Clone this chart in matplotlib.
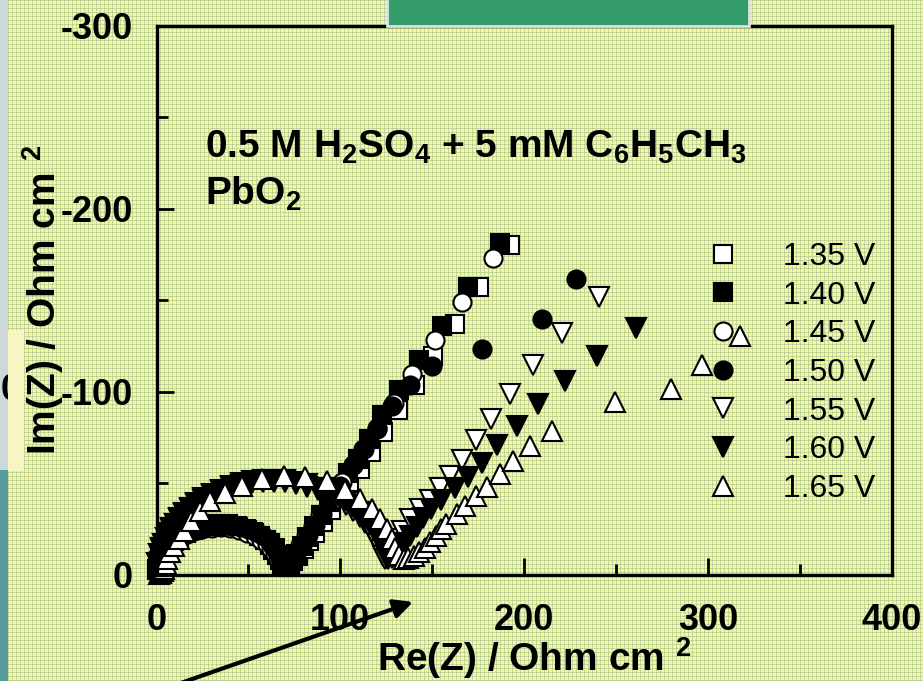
import numpy as np
import matplotlib
matplotlib.use('Agg')
import matplotlib.pyplot as plt
from matplotlib.patches import Rectangle, FancyArrowPatch

plt.rcParams['font.family'] = ['Liberation Sans', 'DejaVu Sans']
plt.rcParams['font.weight'] = 'bold'
plt.rcParams['axes.labelweight'] = 'bold'
plt.rcParams['mathtext.fontset'] = 'custom'
plt.rcParams['mathtext.rm'] = 'Liberation Sans:bold'
plt.rcParams['mathtext.it'] = 'Liberation Sans:bold'
plt.rcParams['mathtext.bf'] = 'Liberation Sans:bold'
plt.rcParams['mathtext.default'] = 'rm'
plt.rcParams['axes.unicode_minus'] = False

# Nyquist data, Re(Z) and -Im(Z) in Ohm cm2
re_135 = [0.3, 0.8, 1.5, 2.5, 3.5, 5, 7, 9.5, 12.5, 16, 20, 24.5, 29.5, 34.5, 39.5, 44.5, 49, 53, 56.5, 59.5,
          62, 64.5, 66.5, 68, 69.5, 71, 72.5, 74.5, 77, 80, 83, 86.5, 90.5, 95, 100, 105, 110.5, 116.5, 123.5,
          131.5, 140.8, 150.7, 162.5, 175.7, 192.4]
mim_135 = [3.5, 5.7, 7.8, 10, 11.8, 13.9, 16.2, 18.5, 20.7, 22.7, 24.4, 25.8, 26.7, 27, 26.8, 26, 24.7, 23.1, 21.3,
           19.3, 17.2, 14.5, 11, 8, 5.5, 4.5, 5.5, 7.5, 10.5, 14, 18.5, 23, 29, 35.5, 43, 50, 58, 67, 78, 90,
           104, 119.4, 137, 157.2, 180.2]

re_140 = [0.2, 0.6, 1.2, 2, 3, 4.5, 6.5, 9, 12, 15.5, 19.5, 24, 29, 34, 39, 44, 48.5, 52.5, 56, 59, 61.5, 63.5,
          65.5, 67, 68.5, 70, 71.5, 73.5, 76, 79, 82, 85.5, 89.5, 94, 99, 104, 109.5, 115.5, 122.7, 131.7, 142.6,
          155.3, 169.7, 187]
mim_140 = [3, 5.2, 7.4, 9.5, 11.5, 13.9, 16.5, 19, 21.3, 23.5, 25.3, 26.8, 27.7, 28, 27.7, 26.8, 25.3, 23.5, 21.3,
           19, 16.5, 13.9, 11, 8, 5.5, 4.5, 5.5, 8, 11.5, 16, 21, 26.5, 33, 40, 48, 55.5, 63.5, 74, 87.6, 101,
           117.6, 135.7, 157, 181]

re_145 = [0.4, 1, 1.8, 2.8, 4, 5.5, 7.5, 10, 13, 16.5, 20.5, 25, 30, 35, 40, 45, 49.5, 53.5, 57, 60, 62.5, 64.5,
          66, 67.5, 69, 70.5, 72.5, 75, 78, 81.5, 85, 89, 94.6, 101, 107, 112.5, 120, 129, 139, 151.6, 166, 183.3]
mim_145 = [4, 6.2, 8.3, 10.3, 12.2, 14.2, 16.3, 18.4, 20.4, 22.3, 23.9, 25.1, 25.8, 26, 25.6, 24.6, 23.1, 21.3,
           19.2, 16.8, 14.2, 11.5, 8.5, 5.5, 5, 6.5, 8.5, 12, 16.5, 21.5, 27, 33, 41.4, 51, 60, 69, 80.5, 94, 110,
           128.5, 149.3, 173]

re_150 = [0.5, 1.2, 2, 3, 4.5, 6, 8, 10.5, 13.5, 17, 21, 25.5, 30.5, 35.5, 40.5, 45.5, 50, 54, 57.5, 60.5, 63, 65,
          67, 68.5, 70, 71.5, 73.5, 76, 79, 82.5, 86, 90, 94.5, 100, 107, 113, 120, 128, 138, 150, 177, 209.6, 228.3]
mim_150 = [4.5, 6.9, 8.9, 10.8, 13.1, 14.9, 17, 19.1, 21.1, 22.9, 24.5, 25.8, 26.7, 27, 26.8, 26, 24.9, 23.4, 21.6,
           19.8, 16.5, 13.5, 9.5, 6.5, 5, 6, 8.5, 12, 16.5, 22, 27.5, 33.5, 40.5, 48.5, 60, 69, 79.5, 92, 104, 114,
           123.6, 139.7, 161.5]

re_155 = [0.5, 1.5, 2.5, 3.5, 5, 6.5, 8, 10, 12.5, 15, 18, 21.5, 25.5, 30, 35, 40.5, 46, 52, 58, 64, 70, 76, 82, 88,
          93.5, 98.5, 103, 107, 110.5, 113.5, 116, 118.5, 120.5, 122, 123.5, 124.5, 125.5, 127, 128.5, 130.8, 133.5,
          138, 143.5, 149, 154.3, 159.8, 166, 173.9, 181.9, 192.4, 205, 220.8, 240.8]
mim_155 = [6.5, 11.2, 14.3, 16.9, 20.1, 22.8, 25, 27.8, 30.7, 33.3, 35.9, 38.6, 41.2, 43.7, 45.9, 47.8, 49.3, 50.3,
           51, 51, 50.6, 49.7, 48.3, 46.3, 43.9, 41.2, 38.3, 35.1, 31.8, 28.4, 25, 21, 17, 13.5, 10.5, 9, 9.5, 11.5,
           15, 19.6, 24, 30.5, 36, 41, 47.7, 54, 63, 73.7, 84.9, 99, 114.9, 132, 152]

re_160 = [0.5, 1.5, 2.5, 3.5, 5, 6.5, 8, 10, 12.5, 15, 18, 21.5, 25.5, 30, 35, 40.5, 46, 52, 58, 64, 70, 76, 82, 88,
          93.5, 98.5, 103, 107, 110.5, 113.5, 116, 118.5, 120.5, 122, 123.5, 125, 126, 128, 130, 132, 135, 138,
          141.5, 145, 149.5, 155, 162.5, 169.5, 177, 185.5, 196, 207.8, 222.3, 239.8, 260.9]
mim_160 = [6.6, 11.3, 14.5, 17.1, 20.3, 23, 25.4, 28.1, 31.1, 33.7, 36.4, 39.1, 41.8, 44.3, 46.6, 48.6, 50.1, 51.2,
           51.8, 52, 51.7, 50.9, 49.6, 47.7, 45.5, 42.9, 40.2, 37.2, 34.2, 31.1, 28.1, 24.6, 21.3, 18.2, 14.5, 11, 9,
           9.5, 11.5, 14, 17.5, 21.5, 26, 31, 36, 41, 47.5, 53.5, 61.3, 70.8, 81.3, 93.5, 105.8, 119.8, 134.8]

re_165 = [1.5, 2.5, 3.3, 4, 4.9, 5.8, 7.6, 9.4, 12.1, 14.8, 18.5, 23.5, 29.3, 37.5, 46.6, 57.4, 69.2, 81, 92.8,
          102.7, 110.9, 117.2, 121.7, 125.4, 128, 130, 132, 134.5, 137, 140, 143, 146, 149, 152, 155, 157.5, 163.4,
          168, 174, 179.7, 187, 194, 203, 215, 249.5, 279.7, 296.6, 317.4]
mim_165 = [0.5, 1, 2, 3.5, 6, 8.7, 12.4, 16, 19.6, 24.1, 29.6, 35, 40.5, 45, 48.6, 52.3, 54, 53.7, 51.3, 46.4, 41.4,
           35.9, 30.5, 25, 19.6, 15, 11, 9, 9.5, 10.5, 12.5, 15, 18, 21.5, 25, 27.8, 33.2, 37.7, 43.2, 48.3, 55,
           62.2, 70.4, 78.6, 94.3, 101.6, 114.9, 130.6]

labels = ['1.35 V', '1.40 V', '1.45 V', '1.50 V', '1.55 V', '1.60 V', '1.65 V']
markers = ['s', 's', 'o', 'o', 'v', 'v', '^']
faces = ['white', 'black', 'white', 'black', 'white', 'black', 'white']
sizes = [13, 13, 13, 13, 14.5, 14.5, 14.5]
re_all = [re_135, re_140, re_145, re_150, re_155, re_160, re_165]
mim_all = [mim_135, mim_140, mim_145, mim_150, mim_155, mim_160, mim_165]

W, H = 923, 681
fig = plt.figure(figsize=(W / 100, H / 100), dpi=100)

# dotted yellow slide background
yy, xx = np.mgrid[0:H, 0:W]
bg = np.zeros((H, W, 3), dtype=np.uint8)
bg[:] = (248, 246, 158)
bg[(xx % 4 == 0) | (yy % 4 == 0)] = (200, 217, 150)
bg[(xx % 4 == 0) & (yy % 4 == 0)] = (172, 200, 150)
fig.figimage(bg, 0, 0, zorder=-10)


def rect(x0, y0, x1, y1, **kw):
    # pixel box, origin top-left
    r = Rectangle((x0 / W, 1 - y1 / H), (x1 - x0) / W, (y1 - y0) / H, transform=fig.transFigure, **kw)
    fig.add_artist(r)
    return r


rect(0, 0, 8, 470, fc='#cbd9d8', ec='none', zorder=-8)
rect(0, 470, 8, H + 2, fc='#589a9a', ec='none', zorder=-8)
fig.text(11 / W, 1 - 390 / H, '0', fontsize=26, ha='center', va='center', zorder=-6)
rect(8, 330, 24, 471, fc='#f7f5c2', ec='none', zorder=-5)
rect(387, -5, 749, 26, fc='#349b6b', ec='#dde5de', lw=2, zorder=5)

ax = fig.add_axes([156.5 / W, 1 - 575 / H, (891.7 - 156.5) / W, (575 - 25.5) / H])
ax.set_facecolor('none')

for re, mim, mk, fc, ms, lab in zip(re_all, mim_all, markers, faces, sizes, labels):
    ax.plot(re, -np.array(mim), ls='none', marker=mk, ms=ms, mfc=fc, mec='black', mew=1.5,
            label=lab, clip_on=False)

ax.set_xlim(0, 400)
ax.set_ylim(0, -300)
ax.set_xticks([0, 100, 200, 300, 400])
ax.set_xticks([50, 150, 250, 350], minor=True)
ax.set_yticks([-300, -200, -100, 0])
ax.set_yticks([-250, -150, -50], minor=True)
ax.tick_params(which='both', direction='in', top=False, right=False, width=2)
ax.tick_params(axis='y', which='major', length=12, labelsize=26, pad=17)
ax.tick_params(axis='x', which='major', length=12, labelsize=26, pad=20)
ax.tick_params(which='minor', length=8)
for s in ax.spines.values():
    s.set_linewidth(2.4)

ax.set_xlabel('Re(Z) / Ohm cm $^2$', fontsize=28, fontweight='bold', labelpad=-2)
ax.xaxis.label.set_x(0.514)
ax.set_ylabel('Im(Z) / Ohm cm $^2$', fontsize=28, fontweight='bold', labelpad=-4)

fig.text(205 / W, 1 - 158 / H, '0.5 M H$_2$SO$_4$ + 5 mM C$_6$H$_5$CH$_3$', fontsize=28, va='baseline')
fig.text(205 / W, 1 - 205 / H, 'PbO$_2$', fontsize=28, va='baseline')

ax.legend(loc='upper left', bbox_to_anchor=(707 / W, 1 - 242 / H), bbox_transform=fig.transFigure,
          frameon=False, prop={'size': 23, 'weight': 'normal'}, handlelength=1.0, handletextpad=1.375,
          labelspacing=0.27, borderpad=0, borderaxespad=0, numpoints=1)

arr = FancyArrowPatch(posA=(178 / W, 1 - 684 / H), posB=(413 / W, 1 - 602 / H), transform=fig.transFigure,
                      arrowstyle='-|>', mutation_scale=28, lw=3, color='black', shrinkA=0, shrinkB=0, zorder=6)
fig.add_artist(arr)

fig.savefig('out.png', dpi=100)
